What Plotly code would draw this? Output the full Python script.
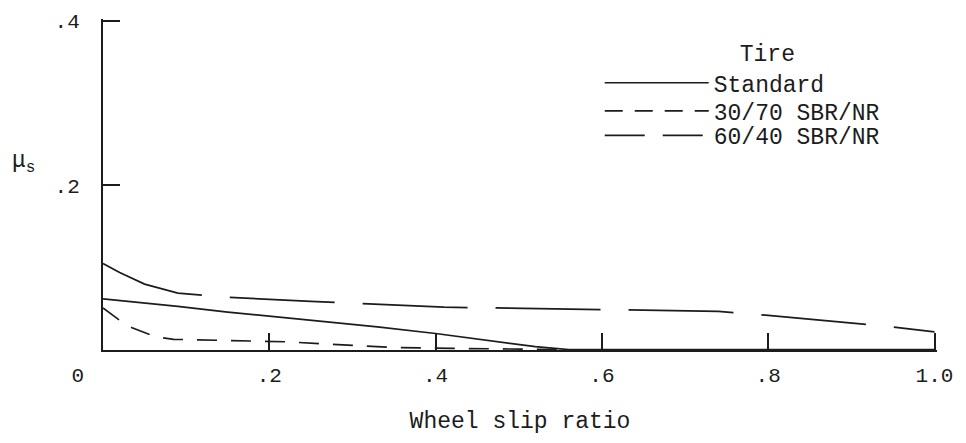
import plotly.graph_objects as go

# ---- data ----
std_x = [0.0, 0.05, 0.09, 0.15, 0.21, 0.27, 0.33, 0.40, 0.45, 0.52, 0.56, 0.70, 0.85, 1.0]
std_y = [0.062, 0.057, 0.053, 0.046, 0.040, 0.034, 0.028, 0.020, 0.013, 0.004, 0.0005, 0.0005, 0.0005, 0.0005]

sbr30_x = [0.0, 0.02, 0.035, 0.063, 0.085, 0.17, 0.22, 0.31, 0.35, 0.42, 0.50, 0.55]
sbr30_y = [0.051, 0.036, 0.027, 0.016, 0.013, 0.0115, 0.010, 0.005, 0.003, 0.002, 0.001, 0.0005]

sbr60_x = [0.0, 0.02, 0.05, 0.09, 0.15, 0.25, 0.41, 0.57, 0.74, 0.80, 0.88, 0.95, 1.0]
sbr60_y = [0.105, 0.094, 0.080, 0.069, 0.064, 0.059, 0.052, 0.050, 0.047, 0.042, 0.035, 0.028, 0.022]

series_names = ["Standard", "30/70 SBR/NR", "60/40 SBR/NR"]
x_tickvals = [0.0, 0.2, 0.4, 0.6, 0.8, 1.0]
x_ticktext = ["0\u00a0\u00a0\u00a0\u00a0", ".2", ".4", ".6", ".8", "1.0"]
y_tickvals = [0.2, 0.4]
y_ticktext = [".2", ".4"]

INK = "#1c1c1c"
FONT = "Liberation Mono, Courier New, monospace"

fig = go.Figure()

# data traces
fig.add_trace(go.Scatter(x=std_x, y=std_y, mode="lines", showlegend=False,
                         line=dict(color=INK, width=1.7)))
fig.add_trace(go.Scatter(x=sbr30_x, y=sbr30_y, mode="lines", showlegend=False,
                         line=dict(color=INK, width=1.7, dash="20px,14px")))
fig.add_trace(go.Scatter(x=sbr60_x, y=sbr60_y, mode="lines", showlegend=False,
                         line=dict(color=INK, width=1.7, dash="105px,28px")))

# legend entries (styled as in the reference key), one legend per row
legend_dashes = ["solid", "18px,12px", "40px,18px"]
legend_ids = ["legend", "legend2", "legend3"]
for name, d, lg in zip(series_names, legend_dashes, legend_ids):
    fig.add_trace(go.Scatter(x=[None], y=[None], mode="lines", name=name, legend=lg,
                             line=dict(color=INK, width=1.7, dash=d)))

LEG_X = 0.5956
legfont = dict(family=FONT, size=23, color=INK)
common_leg = dict(x=LEG_X, xanchor="left", bgcolor="rgba(0,0,0,0)",
                  font=legfont, itemwidth=104)

fig.update_layout(
    width=950, height=427,
    margin=dict(l=95, r=21, t=11, b=85, autoexpand=False),
    paper_bgcolor="white", plot_bgcolor="white",
    font=dict(family=FONT, color=INK, size=21),
    showlegend=True,
    legend=dict(**common_leg, y=0.742, yanchor="bottom",
                title=dict(text="\u00a0" * 10 + "Tire", side="top", font=legfont)),
    legend2=dict(**common_leg, y=0.722, yanchor="middle"),
    legend3=dict(**common_leg, y=0.648, yanchor="middle"),
    xaxis=dict(
        range=[0, 1.003], showgrid=False, zeroline=False, automargin=False,
        showline=True, linecolor=INK, linewidth=2,
        tickmode="array", tickvals=x_tickvals, ticktext=x_ticktext,
        ticks="inside", ticklen=17, tickwidth=2, tickcolor=INK,
        ticklabelstandoff=5,
        tickfont=dict(family=FONT, size=21, color=INK),
        title=dict(text="Wheel slip ratio", font=dict(family=FONT, size=23, color=INK), standoff=26),
    ),
    yaxis=dict(
        range=[0, 0.402], showgrid=False, zeroline=False, automargin=False,
        showline=True, linecolor=INK, linewidth=2,
        tickmode="array", tickvals=y_tickvals, ticktext=y_ticktext,
        ticks="inside", ticklen=17, tickwidth=2, tickcolor=INK,
        ticklabelstandoff=17,
        tickfont=dict(family=FONT, size=21, color=INK),
    ),
    annotations=[dict(
        text="\u03bc<sub>s</sub>", xref="paper", yref="paper",
        x=-0.111, y=0.565, xanchor="left", yanchor="middle", showarrow=False,
        font=dict(family=FONT, size=23, color=INK),
    )],
)

fig.write_html("out.html")
